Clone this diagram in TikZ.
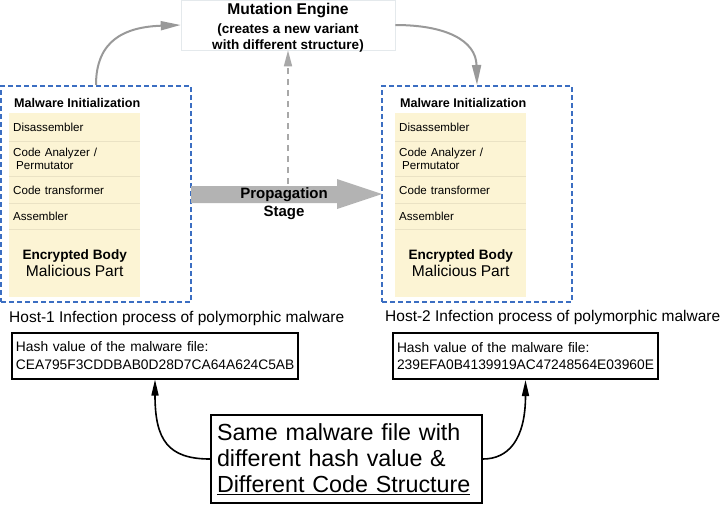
\documentclass[tikz,border=0pt]{standalone}
\usepackage{fontspec}
\setmainfont{Liberation Sans}
\usetikzlibrary{arrows.meta}
\definecolor{rowyel}{HTML}{FCF4D4}
\definecolor{rowsep}{HTML}{EAE2C4}
\definecolor{dashblue}{HTML}{3B6EC2}
\definecolor{arrgrey}{HTML}{999999}
\definecolor{proggrey}{HTML}{B3B3B3}
\definecolor{mutborder}{HTML}{E4E9EC}
\newcommand\rowfont{\fontsize{11.6}{13}\selectfont}
\newcommand\malcol[2]{%
  \node[inittitle] (#1title) at (#2+5,103) {Malware Initialization};
  \node[rowbox, minimum height=28pt] (#1r1) at (#2,113) {Disassembler};
  \node[rowbox, minimum height=35pt] (#1r2) at (#1r1.south west) {Code Analyzer /\\\hspace{3pt}Permutator};
  \node[rowbox, minimum height=26pt] (#1r3) at (#1r2.south west) {Code transformer};
  \node[rowbox, minimum height=26pt] (#1r4) at (#1r3.south west) {Assembler};
  \node[rowbox, minimum height=67pt, align=center] (#1r5) at (#1r4.south west)
     {{\fontsize{13.6}{17}\selectfont\bfseries Encrypted Body}\\[2pt]{\fontsize{15.6}{17}\selectfont Malicious Part}};
  \draw[sepline] (#1r1.south west) -- (#1r1.south east);
  \draw[sepline] (#1r2.south west) -- (#1r2.south east);
  \draw[sepline] (#1r3.south west) -- (#1r3.south east);
  \draw[sepline] (#1r4.south west) -- (#1r4.south east);
}
\begin{document}
\begin{tikzpicture}[x=1pt,y=-1pt,
  hostbox/.style={draw=dashblue, line width=2pt, dash pattern=on 5pt off 3pt,
     minimum width=190pt, minimum height=216pt, inner sep=0pt},
  inittitle/.style={anchor=west, inner sep=0pt, font=\fontsize{12.6}{14}\selectfont\bfseries},
  rowbox/.style={fill=rowyel, anchor=north west, minimum width=131pt, text width=123pt,
     inner xsep=4pt, inner ysep=0pt, align=left, font=\rowfont},
  sepline/.style={draw=rowsep, line width=0.8pt},
  greyarr/.style={draw=arrgrey, line width=2pt, -{Triangle[length=20pt,width=9pt]}},
  blkarr/.style={draw=black, line width=1.6pt, -{Triangle[length=16pt,width=7pt]}},
  hashbox/.style={draw=black, line width=2pt, minimum height=46pt, inner xsep=3pt,
     align=left, font=\fontsize{13.8}{17.5}\selectfont},
  hostlabel/.style={anchor=west, inner sep=0pt, font=\fontsize{15.5}{18}\selectfont}
]
\useasboundingbox (0,0) rectangle (721,504);

% host boxes
\node[hostbox] (lbox) at (96,194) {};
\node[hostbox] (rbox) at (477,194) {};
\malcol{l}{9}
\malcol{r}{395}

% mutation engine
\node[draw=mutborder, line width=0.6pt, minimum width=214pt, minimum height=50pt, inner sep=0pt] (mut) at (288,25) {};
\node[align=center, inner sep=0pt, font=\fontsize{13.5}{15}\selectfont\bfseries] (muttext) at (288,28)
  {\fontsize{15.6}{15}\selectfont Mutation Engine\\[4pt]
   \fontsize{13.5}{15}\selectfont (creates a new variant\\[1pt]
   \fontsize{13.5}{15}\selectfont with different structure)};

% propagation arrow
\fill[proggrey] (191,186) -- (337,186) -- (337,179) -- (382,194) -- (337,209) -- (337,203) -- (191,203) -- cycle;
\coordinate (dashstart) at (288,184);
\draw[draw=arrgrey!85, line width=1.6pt, dash pattern=on 6pt off 5pt,
      -{Triangle[length=16pt,width=8pt]}] (dashstart) -- (mut.south);
\node[align=center, font=\fontsize{15}{18}\selectfont\bfseries, inner sep=0pt] (prop) at (284,204)
  {Propagation\\Stage};

% grey curved arrows
\draw[greyarr] (lbox.north) .. controls (96,40) and (125,27) .. (mut.west);
\draw[greyarr] (mut.east) .. controls (445,25) and (476,40) .. (rbox.north);

% host labels
\node[hostlabel] (host1) at (9,318) {Host-1 Infection process of polymorphic malware};
\node[hostlabel] (host2) at (385,317) {Host-2 Infection process of polymorphic malware};

% hash boxes
\node[hashbox, minimum width=286pt, text width=278pt] (hash1) at (155,355.5)
  {Hash value of the malware file:\\CEA795F3CDDBAB0D28D7CA64A624C5AB};
\node[hashbox, minimum width=265pt, text width=257pt] (hash2) at (525.5,356)
  {Hash value of the malware file:\\239EFA0B4139919AC47248564E03960E};

% bottom box
\node[draw=black, line width=1.8pt, minimum width=271pt, minimum height=88pt, inner xsep=5pt,
      text width=259pt, align=left, font=\fontsize{23.3}{26}\selectfont] (bot) at (346.5,459)
  {Same malware file with\\different hash value \&\\\underline{Different Code Structure}};

\draw[blkarr] (bot.west) .. controls (168,459) and (155,440) .. (hash1.south);
\draw[blkarr] (bot.east) .. controls (508,459) and (525.5,440) .. (hash2.south);
\end{tikzpicture}
\end{document}
